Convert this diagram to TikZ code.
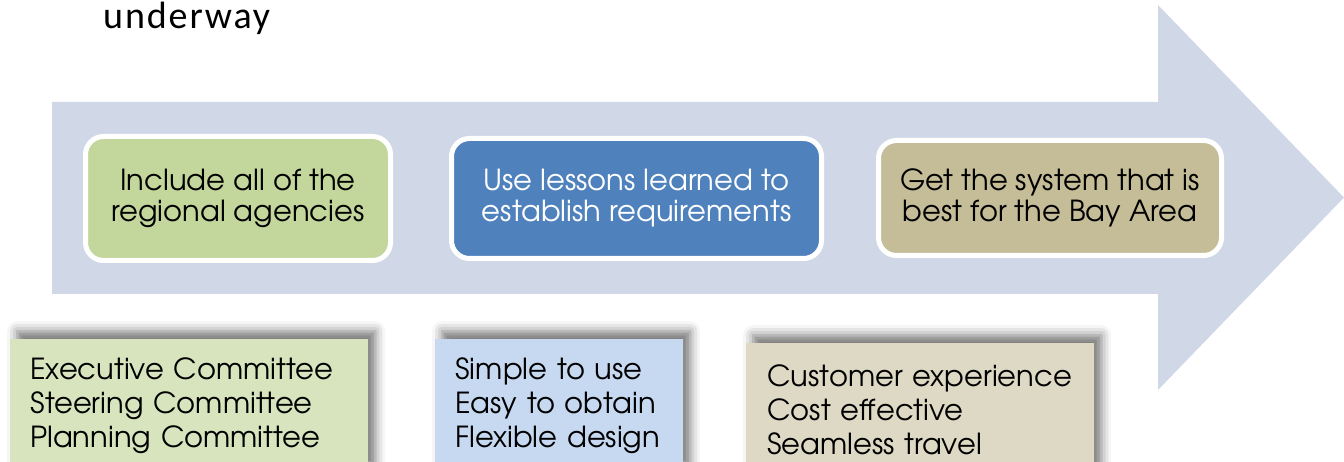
\documentclass[tikz,border=0pt]{standalone}
\usepackage{fontspec}
\usetikzlibrary{shadows.blur}
\newfontfamily\gothic{texgyreadventor-regular.otf}
\newfontfamily\calib[LetterSpace=5]{Carlito}
\definecolor{arrowc}{HTML}{D0D8E8}
\definecolor{topA}{HTML}{C3D69B}
\definecolor{topB}{HTML}{4F81BD}
\definecolor{topC}{HTML}{C4BD97}
\definecolor{botA}{HTML}{D7E4BD}
\definecolor{botB}{HTML}{C6D9F1}
\definecolor{botC}{HTML}{DDD9C4}
\tikzset{
  topbox/.style={draw=white, line width=5pt, rounded corners=18pt, align=center,
    inner sep=0pt, font=\gothic\fontsize{29}{31}\selectfont},
  botbox/.style={draw=none, anchor=north west, align=left, inner sep=0pt,
    inner xsep=20pt,
    font=\gothic\fontsize{29}{34}\selectfont,
    blur shadow={shadow xshift=7pt, shadow yshift=8pt, shadow blur radius=10pt, shadow opacity=55}},
}
\begin{document}
\begin{tikzpicture}[x=1pt,y=-1pt]
\useasboundingbox (0,0) rectangle (1344,462);
\fill[arrowc] (52,102) -- (1158,102) -- (1158,5) -- (1344,197.5) -- (1158,390) -- (1158,294) -- (52,294) -- cycle;
\node[anchor=base west, inner sep=0pt, font=\calib\fontsize{38}{42}\selectfont] (title) at (103,29) {underway};
\node[topbox, fill=topA, minimum width=305pt, minimum height=124pt] (t1) at (238,198.5) {Include all of the\\regional agencies};
\node[topbox, fill=topB, text=white, minimum width=370pt, minimum height=120pt] (t2) at (636.5,198.5) {Use lessons learned to\\establish requirements};
\node[topbox, fill=topC, minimum width=343pt, minimum height=115pt] (t3) at (1050,198) {Get the system that is\\best for the Bay Area};
\node[botbox, fill=botA, minimum width=358pt, minimum height=134pt, text width=318pt] (b1) at (10,339) {Executive Committee\\Steering Committee\\Planning Committee};
\node[botbox, fill=botB, minimum width=248pt, minimum height=134pt, text width=208pt] (b2) at (435,339) {Simple to use\\Easy to obtain\\Flexible design};
\node[botbox, fill=botC, minimum width=348pt, minimum height=134pt, text width=306pt, inner xsep=21pt] (b3) at (746,343) {Customer experience\\Cost effective\\Seamless travel};
\end{tikzpicture}
\end{document}
